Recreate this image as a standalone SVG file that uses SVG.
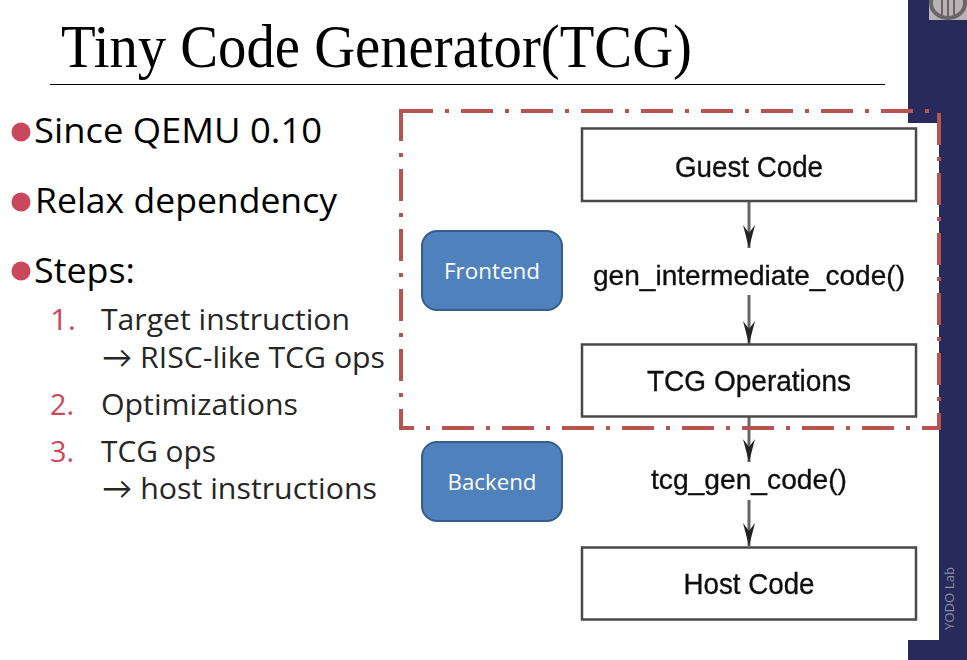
<svg xmlns="http://www.w3.org/2000/svg" width="967" height="660" viewBox="0 0 967 660">
<style>
.c{font-family:"Open Sans","Lato","Liberation Sans",sans-serif}
.b{font-size:34px;fill:#000}
.l{font-size:30px;fill:#262626}
.n{font-size:30px;fill:#c9485b}
.d{font-family:"Liberation Sans",Arial,sans-serif;fill:#111;stroke:#111;stroke-width:.35;text-anchor:middle}
.box{fill:#fff;stroke:#4a4a4a;stroke-width:2.500}
.cap{font-size:21px;fill:#fff;text-anchor:middle}
.btn{fill:#4f81bd;stroke:#385d8a;stroke-width:2}
.bul{fill:#c9485b}
.arr{fill:none;stroke:#666;stroke-width:3}
</style>
<defs>
<filter id="soft" filterUnits="userSpaceOnUse" x="570" y="120" width="360" height="510"><feGaussianBlur stdDeviation="0.5"/></filter>
<marker id="ah" markerUnits="userSpaceOnUse" markerWidth="24" markerHeight="14" refX="23" refY="7" orient="auto" viewBox="0 0 24 14"><path d="M0 1L23 7L0 13L8 7Z" fill="#222"/></marker>
</defs>
<rect width="967" height="660" fill="#fff"/>
<g id="sidebar">
<path d="M908 0H967V660H908V640H939V123H908Z" fill="#272a5a"/>
<rect x="929" y="0" width="38" height="20" fill="#b9b3b5"/>
<ellipse cx="948" cy="3" rx="17" ry="15" fill="none" stroke="#6b6567" stroke-width="4"/>
<path d="M948 0V18M942 0V16M954 0V16" stroke="#6b6567" stroke-width="2" fill="none"/>
<text transform="translate(954 630) rotate(-90)" font-family="'Open Sans','Liberation Sans',sans-serif" font-size="12px" fill="#8c8ea3" textLength="63" lengthAdjust="spacingAndGlyphs">YODO Lab</text>
</g>
<g id="title">
<text x="61" y="67" font-family="'Liberation Serif','Times New Roman',serif" font-size="62px" fill="#000" textLength="631" lengthAdjust="spacingAndGlyphs">Tiny Code Generator(TCG)</text>
<path d="M50 84.500H885" stroke="#000" stroke-width="1"/>
</g>
<g id="bullets">
<circle class="bul" cx="21" cy="132" r="9.500"/>
<text class="c b" x="34" y="143" textLength="288" lengthAdjust="spacingAndGlyphs">Since QEMU 0.10</text>
<circle class="bul" cx="21" cy="202" r="9.500"/>
<text class="c b" x="35" y="213" textLength="302" lengthAdjust="spacingAndGlyphs">Relax dependency</text>
<circle class="bul" cx="21" cy="271" r="9.500"/>
<text class="c b" x="34" y="283" textLength="101" lengthAdjust="spacingAndGlyphs">Steps:</text>
</g>
<g id="steps">
<text class="c n" x="50" y="330" textLength="26" lengthAdjust="spacingAndGlyphs">1.</text>
<text class="c l" x="101" y="330" textLength="249" lengthAdjust="spacingAndGlyphs">Target instruction</text>
<text class="c l" x="102" y="368" textLength="283" lengthAdjust="spacingAndGlyphs">→ RISC-like TCG ops</text>
<text class="c n" x="50" y="415" textLength="24" lengthAdjust="spacingAndGlyphs">2.</text>
<text class="c l" x="101" y="415" textLength="197" lengthAdjust="spacingAndGlyphs">Optimizations</text>
<text class="c n" x="50" y="462" textLength="24" lengthAdjust="spacingAndGlyphs">3.</text>
<text class="c l" x="101" y="462" textLength="115" lengthAdjust="spacingAndGlyphs">TCG ops</text>
<text class="c l" x="102" y="499" textLength="275" lengthAdjust="spacingAndGlyphs">→ host instructions</text>
</g>
<g id="connectors" filter="url(#soft)">
<path class="arr" d="M749 201V248" marker-end="url(#ah)"/>
<path class="arr" d="M749 295V344" marker-end="url(#ah)"/>
<path class="arr" d="M749 416V462" marker-end="url(#ah)"/>
<path class="arr" d="M749 500V546" marker-end="url(#ah)"/>
</g>
<g id="guest-code" filter="url(#soft)">
<rect class="box" x="582" y="128.500" width="334" height="72.500"/>
<text class="d" x="749" y="177" font-size="30px" textLength="148" lengthAdjust="spacingAndGlyphs">Guest Code</text>
</g>
<g id="gen-intermediate-code" filter="url(#soft)">
<text class="d" x="749" y="285" font-size="28px" textLength="312" lengthAdjust="spacingAndGlyphs">gen_intermediate_code()</text>
</g>
<g id="tcg-operations" filter="url(#soft)">
<rect class="box" x="582" y="344.500" width="334" height="72"/>
<text class="d" x="749" y="391" font-size="30px" textLength="204" lengthAdjust="spacingAndGlyphs">TCG Operations</text>
</g>
<g id="tcg-gen-code" filter="url(#soft)">
<text class="d" x="749" y="489" font-size="28px" textLength="196" lengthAdjust="spacingAndGlyphs">tcg_gen_code()</text>
</g>
<g id="host-code" filter="url(#soft)">
<rect class="box" x="582" y="547.500" width="334" height="72"/>
<text class="d" x="749" y="594" font-size="30px" textLength="131" lengthAdjust="spacingAndGlyphs">Host Code</text>
</g>
<g id="frontend">
<rect class="btn" x="422" y="231" width="140" height="79" rx="15"/>
<text class="c cap" x="492" y="279" textLength="96" lengthAdjust="spacingAndGlyphs">Frontend</text>
</g>
<g id="backend">
<rect class="btn" x="422" y="442" width="140" height="79" rx="15"/>
<text class="c cap" x="492" y="490" textLength="89" lengthAdjust="spacingAndGlyphs">Backend</text>
</g>
<g id="frame">
<rect x="401" y="111" width="538" height="317" fill="none" stroke="#b85450" stroke-width="4" stroke-dasharray="32 12 4 12"/>
</g>
</svg>
